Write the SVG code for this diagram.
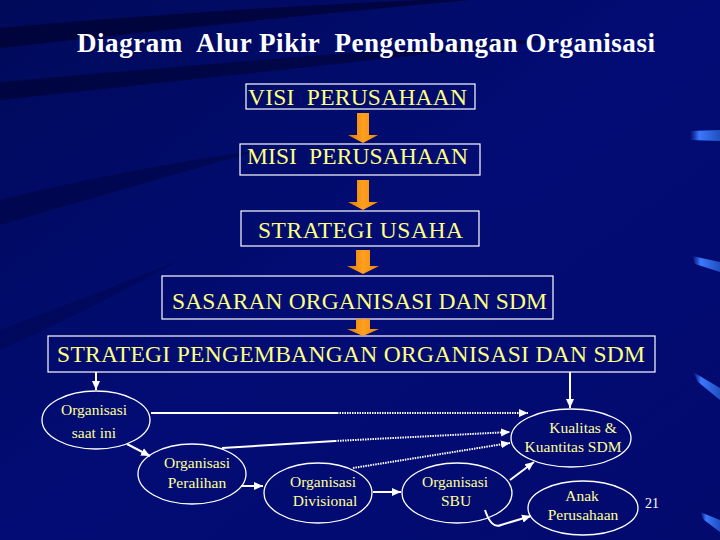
<svg xmlns="http://www.w3.org/2000/svg" width="720" height="540" viewBox="0 0 720 540">
<style>
.title{font-family:"Liberation Serif","Times New Roman",serif;font-weight:bold;font-size:27px;fill:#ffffff}
.btxt{font-family:"Liberation Serif","Times New Roman",serif;font-size:23.5px;fill:#ffff80}
.etxt{font-family:"Liberation Serif","Times New Roman",serif;font-size:15.5px;fill:#ffff99}
.box{fill:none;stroke:#ffffff;stroke-width:1.2}
.ell{fill:none;stroke:#ffffff;stroke-width:1.3}
.oarrow{fill:url(#orange);stroke:none}
.line{fill:none;stroke:#ffffff;stroke-width:2}
.dot{fill:none;stroke:#ffffff;stroke-width:2;stroke-dasharray:1.5 1}
.num{font-family:"Liberation Serif","Times New Roman",serif;font-size:14px;fill:#ffffff}
</style>
<defs>
<linearGradient id="bg" x1="0" y1="0" x2="1" y2="1">
<stop offset="0" stop-color="#000a5a"/>
<stop offset="0.5" stop-color="#020c74"/>
<stop offset="1" stop-color="#030a6e"/>
</linearGradient>
<linearGradient id="orange" x1="0" y1="0" x2="1" y2="0">
<stop offset="0" stop-color="#e07a00"/>
<stop offset="0.5" stop-color="#ffa020"/>
<stop offset="1" stop-color="#f08800"/>
</linearGradient>
<linearGradient id="streak" x1="0" y1="0" x2="1" y2="0">
<stop offset="0" stop-color="#2a60e0" stop-opacity="0"/>
<stop offset="0.3" stop-color="#3c78ff"/>
<stop offset="1" stop-color="#2050c0"/>
</linearGradient>
<marker id="ah" markerWidth="10" markerHeight="10" refX="9" refY="5" orient="auto" markerUnits="userSpaceOnUse">
<path d="M0,1 L9,5 L0,9 Z" fill="#ffffff"/>
</marker>
</defs>

<!-- background -->
<rect width="720" height="540" fill="url(#bg)"/>
<path d="M0,28 Q200,10 420,0 L470,0 Q250,20 0,48 Z" fill="#000020" opacity="0.55"/>
<path d="M0,82 Q250,60 520,40 L560,40 Q280,70 0,100 Z" fill="#000020" opacity="0.45"/>
<path d="M0,200 Q120,170 260,150 Q120,190 0,225 Z" fill="#000020" opacity="0.3"/>
<path d="M0,330 Q80,300 180,260 Q90,310 0,350 Z" fill="#000030" opacity="0.25"/>
<path d="M690,131 L720,130 L720,141 L690,140 Z" fill="url(#streak)"/>
<path d="M692,256 L720,262 L720,272 L695,264 Z" fill="url(#streak)"/>
<path d="M693,372 L720,388 L720,400 L698,382 Z" fill="url(#streak)"/>
<path d="M700,512 L720,520 L720,532 L704,520 Z" fill="url(#streak)"/>

<text class="title" x="366" y="52" text-anchor="middle" textLength="578" xml:space="preserve">Diagram  Alur Pikir  Pengembangan Organisasi</text>

<g id="visi">
<rect class="box" x="246" y="84" width="229" height="25"/>
<text class="btxt" x="357.5" y="105" text-anchor="middle" textLength="219" xml:space="preserve">VISI  PERUSAHAAN</text>
</g>
<g id="misi">
<rect class="box" x="240" y="144" width="240" height="31"/>
<text class="btxt" x="357.5" y="164" text-anchor="middle" textLength="221" xml:space="preserve">MISI  PERUSAHAAN</text>
</g>
<g id="strategi-usaha">
<rect class="box" x="241" y="211" width="238" height="35"/>
<text class="btxt" x="360.5" y="238" text-anchor="middle" textLength="205">STRATEGI USAHA</text>
</g>
<g id="sasaran">
<rect class="box" x="162" y="276" width="391" height="43"/>
<text class="btxt" x="359.5" y="309" text-anchor="middle" textLength="375">SASARAN ORGANISASI DAN SDM</text>
</g>
<g id="strategi-pengembangan">
<rect class="box" x="48" y="336" width="607" height="36"/>
<text class="btxt" x="351" y="362" text-anchor="middle" textLength="588">STRATEGI PENGEMBANGAN ORGANISASI DAN SDM</text>
</g>

<g id="org-saat-ini">
<ellipse class="ell" cx="96" cy="420" rx="54" ry="29"/>
<text class="etxt" x="94" y="415" text-anchor="middle">Organisasi</text>
<text class="etxt" x="94" y="438" text-anchor="middle">saat ini</text>
</g>
<g id="org-peralihan">
<ellipse class="ell" cx="192" cy="474" rx="54" ry="30"/>
<text class="etxt" x="197" y="468" text-anchor="middle">Organisasi</text>
<text class="etxt" x="197" y="488" text-anchor="middle">Peralihan</text>
</g>
<g id="org-divisional">
<ellipse class="ell" cx="318" cy="493" rx="54" ry="30"/>
<text class="etxt" x="323" y="487" text-anchor="middle">Organisasi</text>
<text class="etxt" x="325" y="506" text-anchor="middle">Divisional</text>
</g>
<g id="org-sbu">
<ellipse class="ell" cx="457" cy="493" rx="55" ry="30"/>
<text class="etxt" x="455" y="487" text-anchor="middle">Organisasi</text>
<text class="etxt" x="456" y="506" text-anchor="middle">SBU</text>
</g>
<g id="kualitas">
<ellipse class="ell" cx="571" cy="438" rx="60" ry="29"/>
<text class="etxt" x="583" y="433" text-anchor="middle">Kualitas &amp;</text>
<text class="etxt" x="573" y="452" text-anchor="middle">Kuantitas SDM</text>
</g>
<g id="anak">
<ellipse class="ell" cx="583" cy="508" rx="55" ry="27"/>
<text class="etxt" x="582" y="501" text-anchor="middle">Anak</text>
<text class="etxt" x="583" y="520" text-anchor="middle">Perusahaan</text>
</g>
<text class="num" x="652" y="508" text-anchor="middle">21</text>

<g id="connectors">
<path class="oarrow" d="M357,113 H369 V135 H378 L363,143 L348,135 H357 Z"/>
<path class="oarrow" d="M357,180 H369 V202 H378 L363,210 L348,202 H357 Z"/>
<path class="oarrow" d="M356,250 H370 V266 H379 L363,274 L347,266 H356 Z"/>
<path class="oarrow" d="M356,319 H370 V329 H379 L363,336 L347,329 H356 Z"/>

<path class="line" d="M96,372 V390" marker-end="url(#ah)"/>
<path class="line" d="M570,372 V408" marker-end="url(#ah)"/>
<path class="line" d="M127,444 L150,456" marker-end="url(#ah)"/>
<path class="line" d="M241,486 H263" marker-end="url(#ah)"/>
<path class="line" d="M373,492 H401" marker-end="url(#ah)"/>

<path class="line" d="M151,413 H337"/>
<path class="dot" d="M337,413 H528" marker-end="url(#ah)"/>
<path class="line" d="M222,448 L335,441"/>
<path class="dot" d="M335,441 L510,432" marker-end="url(#ah)"/>
<path class="dot" d="M353,468 L510,443" marker-end="url(#ah)"/>
<path class="line" d="M510,480 L534,462" marker-end="url(#ah)"/>
<path class="line" d="M485,510 C489,522 494,528 501,525 L531,516" marker-end="url(#ah)"/>
</g>
</svg>
